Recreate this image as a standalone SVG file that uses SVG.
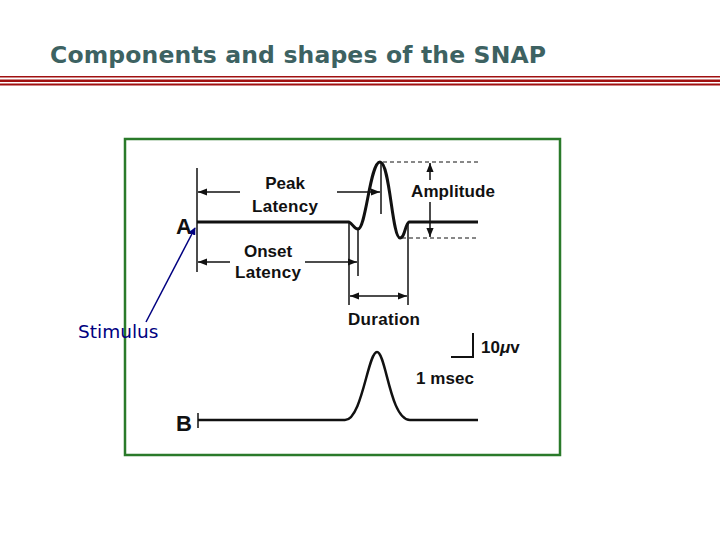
<svg xmlns="http://www.w3.org/2000/svg" width="720" height="540" viewBox="0 0 720 540">
<style>
.t{font-family:"Liberation Sans",Arial,sans-serif;font-size:17px;font-weight:bold;fill:#111;}
.big{font-size:22px;}
.w{fill:none;stroke:#111;stroke-width:3;stroke-linejoin:round;}
.l{fill:none;stroke:#111;stroke-width:1.5;}
.d{fill:none;stroke:#111;stroke-width:1;stroke-dasharray:4,3;}
</style>
<defs>
<marker id="ah" viewBox="0 0 10 10" refX="10" refY="5" markerWidth="8" markerHeight="6" orient="auto-start-reverse"><path d="M0,1L10,5L0,9z" fill="#111"/></marker>
<marker id="bh" viewBox="0 0 10 10" refX="9" refY="5" markerWidth="5" markerHeight="5" orient="auto"><path d="M0,0L10,5L0,10z" fill="#000080"/></marker>
</defs>
<rect width="720" height="540" fill="#fff"/>
<g id="title">
<text x="50" y="63" font-family="DejaVu Sans,sans-serif" font-weight="bold" font-size="23.5" fill="#3d6262" textLength="496">Components and shapes of the SNAP</text>
<rect x="0" y="76" width="720" height="1.5" fill="#a01010"/>
<rect x="0" y="79.5" width="720" height="2.5" fill="#a01010"/>
<rect x="0" y="83.5" width="720" height="2" fill="#a01010"/>
</g>
<g id="frame"><rect x="125" y="139" width="435" height="316" fill="#fff" stroke="#2a7a2a" stroke-width="2.5"/></g>
<g id="traceA">
<path class="w" d="M197,222 L349,222 C353,224 354,229 358,229 C366,229 370,162 380,162 C390,162 392,238 400,238 C405,238 405,224 409,222 L478,222"/>
<text class="t big" x="184" y="234" text-anchor="middle">A</text>
</g>
<g id="traceB">
<path class="w" style="stroke-width:2.5" d="M198,420 L345,420 C362,420 368,352 377,352 C386,352 390,420 410,420 L478,420"/>
<line class="l" x1="198" y1="413" x2="198" y2="428"/>
<text class="t big" x="184" y="431" text-anchor="middle">B</text>
</g>
<g id="scale">
<path class="l" style="stroke-width:2" d="M473,333 L473,357 L451,357"/>
<text class="t" x="481" y="353">10<tspan font-style="italic">μ</tspan>v</text>
<text class="t" x="416" y="384" textLength="58">1 msec</text>
</g>
<g id="labels">
<text class="t" x="285" y="189" text-anchor="middle">Peak</text>
<text class="t" x="285" y="212" text-anchor="middle" textLength="66">Latency</text>
<text class="t" x="268" y="257" text-anchor="middle">Onset</text>
<text class="t" x="268" y="278" text-anchor="middle" textLength="66">Latency</text>
<text class="t" x="411" y="197" textLength="84">Amplitude</text>
<text class="t" x="384" y="325" text-anchor="middle" textLength="72">Duration</text>
</g>
<g id="connectors">
<line class="l" x1="197" y1="168" x2="197" y2="272"/>
<line class="l" x1="381" y1="162" x2="381" y2="214"/>
<line class="l" x1="358" y1="228" x2="358" y2="276"/>
<line class="l" x1="349" y1="222" x2="349" y2="305"/>
<line class="l" x1="408" y1="222" x2="408" y2="305"/>
<line class="l" x1="240" y1="192" x2="198" y2="192" marker-end="url(#ah)"/>
<line class="l" x1="337" y1="192" x2="380" y2="192" marker-end="url(#ah)"/>
<line class="l" x1="230" y1="262" x2="198" y2="262" marker-end="url(#ah)"/>
<line class="l" x1="305" y1="262" x2="357" y2="262" marker-end="url(#ah)"/>
<line class="l" x1="350" y1="296" x2="407" y2="296" marker-start="url(#ah)" marker-end="url(#ah)"/>
<line class="d" x1="383" y1="162" x2="478" y2="162"/>
<line class="d" x1="402" y1="238" x2="478" y2="238"/>
<line class="l" x1="430" y1="180" x2="430" y2="163" marker-end="url(#ah)"/>
<line class="l" x1="430" y1="202" x2="430" y2="237" marker-end="url(#ah)"/>
<line x1="146" y1="322" x2="195" y2="228" stroke="#000080" stroke-width="1.5" marker-end="url(#bh)"/>
</g>
<g id="stimulus"><text x="78" y="338" font-family="DejaVu Sans,Verdana,sans-serif" font-size="18.5" fill="#000080">Stimulus</text></g>
</svg>
